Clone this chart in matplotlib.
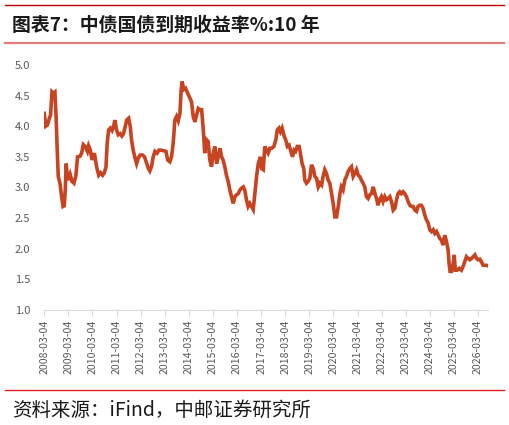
import matplotlib
matplotlib.use("Agg")
import matplotlib.pyplot as plt
from matplotlib.lines import Line2D

plt.rcParams['font.family'] = ['Noto Sans CJK SC', 'DejaVu Sans']

# x tick labels (one per position 0..18)
tick_labels = ["%d-03-04" % y for y in range(2008, 2027)]

# position along the category axis (in tick units) and 10y yield (%)
pos = [0.00, 0.06, 0.13, 0.21, 0.26, 0.32, 0.37, 0.44, 0.49, 0.53,
       0.58, 0.65, 0.71, 0.78, 0.83, 0.87, 0.91, 0.97, 1.07, 1.15,
       1.23, 1.31, 1.38, 1.48, 1.55, 1.62, 1.70, 1.79, 1.84, 1.91,
       1.98, 2.08, 2.17, 2.26, 2.34, 2.42, 2.49, 2.56, 2.61, 2.67,
       2.74, 2.81, 2.88, 2.93, 3.00, 3.07, 3.15, 3.22, 3.29, 3.36,
       3.42, 3.50, 3.57, 3.62, 3.69, 3.76, 3.83, 3.90, 3.98, 4.08,
       4.16, 4.25, 4.32, 4.38, 4.45, 4.52, 4.59, 4.68, 4.76, 4.85,
       4.95, 5.05, 5.12, 5.21, 5.28, 5.35, 5.42, 5.49, 5.56, 5.63,
       5.68, 5.72, 5.79, 5.86, 5.95, 6.03, 6.11, 6.18, 6.25, 6.32,
       6.39, 6.46, 6.53, 6.60, 6.66, 6.73, 6.80, 6.87, 6.94, 7.01,
       7.08, 7.15, 7.22, 7.29, 7.36, 7.42, 7.49, 7.56, 7.63, 7.70,
       7.77, 7.84, 7.91, 7.98, 8.05, 8.12, 8.19, 8.26, 8.32, 8.39,
       8.46, 8.53, 8.60, 8.67, 8.74, 8.81, 8.88, 8.97, 9.02, 9.09,
       9.15, 9.22, 9.29, 9.36, 9.44, 9.53, 9.61, 9.67, 9.74, 9.80,
       9.87, 9.96, 10.02, 10.09, 10.16, 10.22, 10.30, 10.37, 10.43, 10.50,
       10.58, 10.63, 10.70, 10.77, 10.81, 10.88, 10.95, 11.02, 11.09, 11.16,
       11.23, 11.30, 11.37, 11.44, 11.51, 11.57, 11.64, 11.71, 11.78, 11.85,
       11.92, 11.99, 12.06, 12.13, 12.20, 12.27, 12.33, 12.40, 12.47, 12.54,
       12.61, 12.68, 12.75, 12.82, 12.89, 12.96, 13.03, 13.09, 13.16, 13.23,
       13.30, 13.37, 13.44, 13.51, 13.58, 13.65, 13.72, 13.79, 13.85, 13.92,
       13.99, 14.06, 14.13, 14.20, 14.27, 14.34, 14.41, 14.48, 14.55, 14.62,
       14.68, 14.75, 14.82, 14.89, 14.96, 15.03, 15.10, 15.17, 15.24, 15.31,
       15.38, 15.45, 15.51, 15.58, 15.65, 15.72, 15.79, 15.86, 15.93, 16.00,
       16.07, 16.14, 16.21, 16.28, 16.35, 16.41, 16.48, 16.55, 16.62, 16.69,
       16.76, 16.80, 16.84, 16.90, 16.97, 17.01, 17.06, 17.13, 17.22, 17.31,
       17.38, 17.45, 17.52, 17.59, 17.66, 17.73, 17.80, 17.87, 17.94, 18.00,
       18.07, 18.14, 18.21, 18.28, 18.35, 18.42]
yield_10y = [4.21, 4.00, 4.02, 4.13, 4.18, 4.56, 4.54, 4.56, 4.16, 3.69,
             3.18, 3.07, 2.88, 2.69, 2.70, 2.96, 3.39, 3.12, 3.22, 3.10,
             3.07, 3.19, 3.50, 3.51, 3.56, 3.70, 3.67, 3.59, 3.68, 3.61,
             3.45, 3.56, 3.34, 3.20, 3.24, 3.20, 3.24, 3.33, 3.72, 3.94,
             3.97, 3.93, 4.00, 4.10, 3.94, 3.86, 3.88, 3.84, 3.88, 4.00,
             4.10, 4.13, 3.99, 3.78, 3.61, 3.49, 3.39, 3.48, 3.53, 3.53,
             3.50, 3.39, 3.31, 3.27, 3.34, 3.50, 3.59, 3.56, 3.61, 3.61,
             3.60, 3.59, 3.45, 3.42, 3.50, 3.72, 4.10, 4.16, 4.09, 4.21,
             4.59, 4.73, 4.60, 4.62, 4.54, 4.47, 4.40, 4.16, 4.07, 4.18,
             4.29, 4.27, 4.27, 3.94, 3.56, 3.78, 3.75, 3.45, 3.34, 3.56,
             3.67, 3.39, 3.50, 3.64, 3.50, 3.45, 3.34, 3.20, 3.10, 2.96,
             2.85, 2.74, 2.85, 2.88, 2.90, 2.96, 2.99, 3.01, 2.96, 2.80,
             2.69, 2.74, 2.69, 2.64, 2.90, 3.18, 3.39, 3.50, 3.31, 3.29,
             3.67, 3.61, 3.56, 3.64, 3.64, 3.67, 3.78, 3.94, 3.97, 3.91,
             3.97, 3.83, 3.78, 3.67, 3.69, 3.61, 3.50, 3.61, 3.59, 3.67,
             3.67, 3.56, 3.39, 3.31, 3.12, 3.07, 3.10, 3.15, 3.37, 3.31,
             3.18, 3.15, 3.01, 3.07, 3.04, 3.18, 3.29, 3.23, 3.12, 3.07,
             2.90, 2.74, 2.52, 2.52, 2.69, 2.90, 3.01, 2.96, 3.12, 3.18,
             3.26, 3.31, 3.34, 3.18, 3.23, 3.29, 3.20, 3.18, 3.12, 3.07,
             3.01, 2.85, 2.82, 2.88, 2.90, 3.01, 2.90, 2.82, 2.71, 2.80,
             2.85, 2.77, 2.85, 2.80, 2.82, 2.85, 2.77, 2.63, 2.66, 2.80,
             2.90, 2.93, 2.90, 2.93, 2.90, 2.85, 2.77, 2.71, 2.69, 2.69,
             2.63, 2.61, 2.69, 2.71, 2.71, 2.66, 2.55, 2.47, 2.42, 2.31,
             2.28, 2.31, 2.25, 2.28, 2.22, 2.17, 2.14, 2.06, 2.22, 2.12,
             1.98, 1.76, 1.63, 1.63, 1.76, 1.90, 1.65, 1.65, 1.68, 1.65,
             1.71, 1.79, 1.87, 1.84, 1.82, 1.84, 1.87, 1.90, 1.84, 1.82,
             1.83, 1.79, 1.73, 1.73, 1.73, 1.72]

fig = plt.figure(figsize=(5.09, 4.25), dpi=100)
ax = fig.add_axes([0.087, 0.2706, 0.872, 0.5765])

ax.plot(pos, yield_10y, color='#C8431F', lw=2.6, solid_joinstyle='miter')

ax.set_ylim(1.0, 5.0)
ax.set_xlim(0, 18.42)
ax.set_yticks([1.0, 1.5, 2.0, 2.5, 3.0, 3.5, 4.0, 4.5, 5.0])
ax.set_yticklabels(["%.1f" % v for v in ax.get_yticks()])
ax.set_xticks(range(len(tick_labels)))
ax.set_xticklabels(tick_labels, rotation=90)

for s in ["top", "left", "right"]:
    ax.spines[s].set_visible(False)
ax.spines["bottom"].set_color('#D9D9D9')
ax.tick_params(axis='y', length=0, labelsize=8, labelcolor='#595959', pad=10)
ax.tick_params(axis='x', length=4, color='#D9D9D9', labelsize=7.6,
               labelcolor='#595959', pad=3)

# header / footer rules
fig.add_artist(Line2D([0.01, 0.99], [1 - 5 / 425, 1 - 5 / 425],
                      color='#C00000', lw=1.0))
fig.add_artist(Line2D([0.01, 0.99], [1 - 43 / 425, 1 - 43 / 425],
                      color='#E37F7F', lw=1.6))
fig.add_artist(Line2D([0.01, 0.99], [1 - 390 / 425, 1 - 390 / 425],
                      color='#E02020', lw=1.0))

fig.text(12 / 509, 1 - 25 / 425, "图表7：中债国债到期收益率%:10 年",
         fontsize=13.6, fontweight='bold', color='#1A1A1A',
         ha='left', va='center')
fig.text(12 / 509, 1 - 410 / 425, "资料来源：iFind，中邮证券研究所",
         fontsize=14, color='#1A1A1A', ha='left', va='center')

fig.savefig("out.png", dpi=100)
